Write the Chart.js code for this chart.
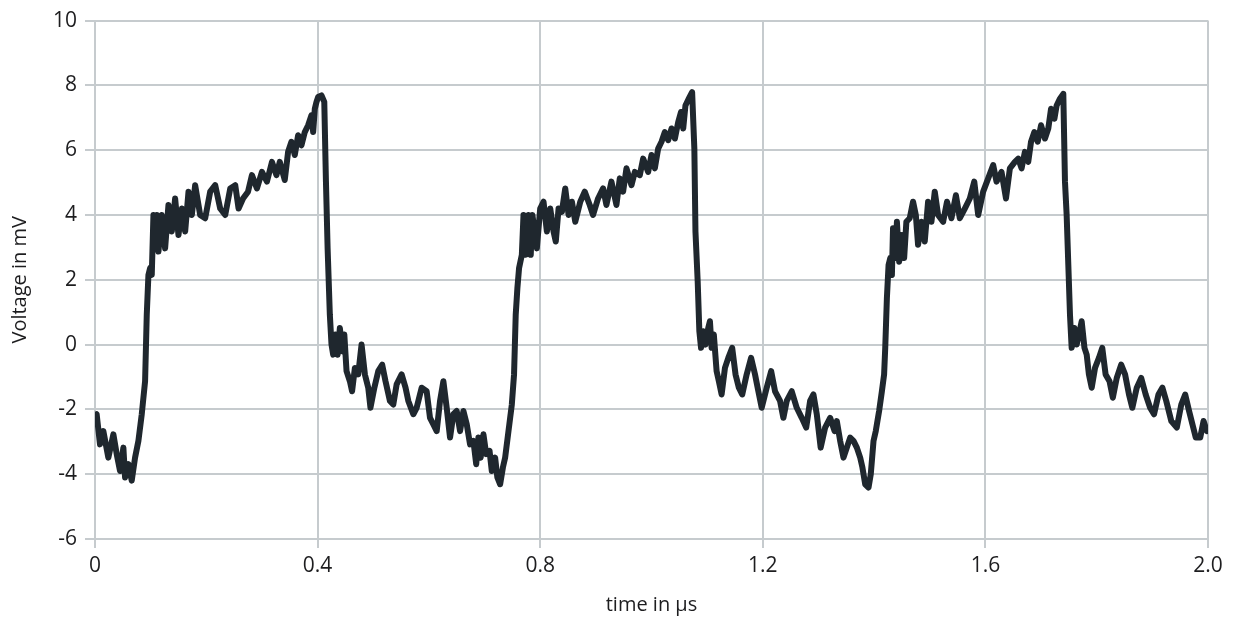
<!DOCTYPE html>
<html>
<head>
<meta charset="utf-8">
<script src="https://cdn.jsdelivr.net/npm/chart.js@4/dist/chart.umd.min.js"></script>
<style>
  html, body { margin: 0; padding: 0; background: #fff; }
  #wrap { width: 1233px; height: 617px; }
</style>
</head>
<body>
<div id="wrap"><canvas id="myChart" width="1233" height="617"></canvas></div>
<script>
// Values (time in µs, voltage in mV)
const timeUs = [
  0.000, 0.003, 0.009, 0.015, 0.024, 0.033, 0.039, 0.045, 0.051, 0.054,
  0.060, 0.066, 0.072, 0.078, 0.084, 0.090, 0.093, 0.096, 0.099, 0.102,
  0.105, 0.108, 0.111, 0.114, 0.120, 0.126, 0.132, 0.138, 0.144, 0.150,
  0.156, 0.162, 0.168, 0.174, 0.180, 0.189, 0.198, 0.207, 0.216, 0.225,
  0.234, 0.243, 0.252, 0.258, 0.266, 0.275, 0.282, 0.291, 0.300, 0.309,
  0.318, 0.326, 0.332, 0.341, 0.347, 0.353, 0.359, 0.365, 0.371, 0.377,
  0.383, 0.389, 0.392, 0.395, 0.398, 0.401, 0.407, 0.412, 0.415, 0.418,
  0.422, 0.425, 0.428, 0.432, 0.436, 0.440, 0.445, 0.448, 0.452, 0.458,
  0.462, 0.467, 0.473, 0.479, 0.485, 0.491, 0.495, 0.502, 0.509, 0.516,
  0.522, 0.530, 0.536, 0.542, 0.551, 0.558, 0.563, 0.572, 0.578, 0.587,
  0.596, 0.602, 0.608, 0.614, 0.620, 0.626, 0.632, 0.638, 0.644, 0.650,
  0.656, 0.662, 0.668, 0.674, 0.680, 0.685, 0.689, 0.693, 0.698, 0.703,
  0.709, 0.713, 0.719, 0.723, 0.728, 0.733, 0.737, 0.743, 0.749, 0.753,
  0.756, 0.759, 0.762, 0.767, 0.770, 0.774, 0.779, 0.783, 0.786, 0.794,
  0.800, 0.806, 0.812, 0.818, 0.824, 0.828, 0.833, 0.839, 0.845, 0.851,
  0.857, 0.863, 0.872, 0.880, 0.889, 0.895, 0.904, 0.913, 0.919, 0.928,
  0.937, 0.943, 0.949, 0.955, 0.964, 0.970, 0.979, 0.985, 0.994, 1.000,
  1.006, 1.012, 1.018, 1.024, 1.030, 1.036, 1.042, 1.048, 1.053, 1.057,
  1.061, 1.067, 1.073, 1.077, 1.079, 1.083, 1.086, 1.089, 1.093, 1.097,
  1.102, 1.105, 1.108, 1.112, 1.117, 1.121, 1.126, 1.132, 1.138, 1.145,
  1.151, 1.157, 1.163, 1.171, 1.179, 1.186, 1.192, 1.198, 1.207, 1.215,
  1.222, 1.231, 1.237, 1.243, 1.252, 1.261, 1.270, 1.278, 1.285, 1.291,
  1.297, 1.304, 1.312, 1.321, 1.329, 1.333, 1.339, 1.345, 1.351, 1.357,
  1.363, 1.369, 1.375, 1.379, 1.384, 1.390, 1.394, 1.399, 1.403, 1.409,
  1.414, 1.418, 1.420, 1.423, 1.426, 1.429, 1.432, 1.434, 1.438, 1.441,
  1.445, 1.450, 1.454, 1.458, 1.464, 1.470, 1.475, 1.479, 1.485, 1.491,
  1.497, 1.503, 1.509, 1.515, 1.524, 1.531, 1.539, 1.547, 1.554, 1.563,
  1.572, 1.580, 1.587, 1.596, 1.605, 1.614, 1.620, 1.629, 1.637, 1.644,
  1.653, 1.659, 1.665, 1.671, 1.677, 1.682, 1.688, 1.694, 1.700, 1.707,
  1.713, 1.718, 1.724, 1.728, 1.734, 1.740, 1.743, 1.746, 1.749, 1.752,
  1.755, 1.760, 1.764, 1.768, 1.773, 1.778, 1.782, 1.786, 1.791, 1.797,
  1.804, 1.810, 1.816, 1.823, 1.829, 1.836, 1.844, 1.851, 1.858, 1.864,
  1.872, 1.880, 1.888, 1.896, 1.903, 1.911, 1.918, 1.925, 1.934, 1.944,
  1.952, 1.959, 1.966, 1.972, 1.978, 1.986, 1.992, 1.998
];
const voltageMv = [
  -2.20, -2.15, -3.08, -2.67, -3.49, -2.77, -3.38, -3.90, -3.18, -4.10,
  -3.69, -4.20, -3.49, -2.97, -2.15, -1.13, 0.92, 2.15, 2.36, 2.15,
  4.00, 2.97, 4.00, 2.87, 4.00, 2.97, 4.31, 3.49, 4.51, 3.38,
  4.20, 3.49, 4.72, 4.00, 4.92, 4.00, 3.90, 4.72, 4.92, 4.20,
  4.00, 4.82, 4.92, 4.20, 4.51, 4.72, 5.23, 4.82, 5.33, 5.03,
  5.64, 5.23, 5.64, 5.08, 5.95, 6.26, 5.85, 6.46, 6.15, 6.56,
  6.77, 7.08, 6.56, 7.28, 7.49, 7.64, 7.69, 7.49, 5.03, 2.97,
  0.92, 0.00, -0.31, 0.31, -0.31, 0.51, -0.21, 0.31, -0.82, -1.13,
  -1.44, -0.72, -0.92, 0.00, -0.92, -1.33, -1.95, -1.33, -0.82, -0.62,
  -1.13, -1.74, -1.85, -1.23, -0.92, -1.33, -1.74, -2.15, -1.95, -1.33,
  -1.44, -2.26, -2.46, -2.67, -1.74, -1.13, -1.95, -2.87, -2.15, -2.05,
  -2.67, -2.05, -2.46, -3.08, -2.97, -3.69, -2.87, -3.49, -2.77, -3.38,
  -3.28, -3.90, -3.49, -4.10, -4.31, -3.79, -3.49, -2.67, -1.85, -0.92,
  0.92, 1.74, 2.36, 2.77, 4.00, 2.77, 4.00, 2.77, 4.00, 2.97,
  4.20, 4.41, 3.49, 4.20, 3.49, 3.18, 4.20, 4.10, 4.82, 4.00,
  4.41, 3.79, 4.41, 4.72, 4.31, 4.00, 4.51, 4.82, 4.31, 5.03,
  4.31, 5.13, 4.72, 5.44, 4.92, 5.33, 5.23, 5.74, 5.33, 5.85,
  5.44, 6.05, 6.26, 6.56, 6.31, 6.67, 6.36, 6.87, 7.18, 6.67,
  7.38, 7.59, 7.79, 6.05, 3.49, 1.95, 0.41, -0.10, 0.41, 0.00,
  0.51, 0.72, -0.10, 0.31, -0.82, -1.13, -1.54, -0.72, -0.41, -0.10,
  -0.92, -1.33, -1.54, -0.92, -0.41, -0.92, -1.44, -1.95, -1.33, -0.82,
  -1.44, -1.74, -2.26, -1.74, -1.44, -1.95, -2.26, -2.56, -1.74, -1.54,
  -2.15, -3.18, -2.56, -2.26, -2.67, -2.36, -2.97, -3.49, -3.18, -2.87,
  -2.97, -3.18, -3.49, -3.79, -4.31, -4.41, -4.00, -2.97, -2.67, -2.05,
  -1.44, -0.92, -0.10, 1.44, 2.46, 2.67, 2.15, 3.59, 2.67, 3.79,
  2.56, 3.38, 2.67, 3.79, 3.90, 4.41, 4.00, 3.08, 3.79, 3.18,
  4.41, 3.79, 4.72, 4.00, 3.79, 4.41, 3.90, 4.61, 3.90, 4.20,
  4.51, 5.03, 4.00, 4.72, 5.13, 5.54, 5.03, 5.33, 4.51, 5.44,
  5.64, 5.74, 5.44, 5.95, 5.64, 6.26, 6.56, 6.26, 6.77, 6.36,
  6.67, 7.28, 6.97, 7.38, 7.59, 7.74, 5.03, 4.00, 2.46, 0.92,
  -0.10, 0.51, 0.00, 0.31, 0.72, -0.10, -0.31, -0.92, -1.33, -0.72,
  -0.41, -0.10, -0.92, -1.13, -1.64, -1.03, -0.62, -0.92, -1.54, -1.95,
  -1.33, -1.03, -1.54, -1.95, -2.15, -1.54, -1.33, -1.74, -2.36, -2.56,
  -1.85, -1.54, -2.05, -2.46, -2.87, -2.87, -2.36, -2.67
];

const xTicks = [0, 0.4, 0.8, 1.2, 1.6, 2.0];
const xTickLabels = ['0', '0.4', '0.8', '1.2', '1.6', '2.0'];
const yTicks = [-6, -4, -2, 0, 2, 4, 6, 8, 10];
const yTickLabels = ['-6', '-4', '-2', '0', '2', '4', '6', '8', '10'];

const gridColor = '#c6cbce';
const textColor = '#1d1d1f';
const fontFamily = '"Open Sans", "Noto Sans", sans-serif';

const points = timeUs.map((t, i) => ({ x: t, y: voltageMv[i] }));

const ctx = document.getElementById('myChart').getContext('2d');
new Chart(ctx, {
  type: 'line',
  data: {
    datasets: [{
      data: points,
      borderColor: '#1f272e',
      borderWidth: 6,
      borderJoinStyle: 'round',
      borderCapStyle: 'round',
      pointRadius: 0,
      tension: 0,
      fill: false
    }]
  },
  options: {
    responsive: false,
    animation: false,
    layout: { padding: { top: 18, right: 25, left: 0, bottom: 0 } },
    plugins: {
      legend: { display: false },
      tooltip: { enabled: false }
    },
    scales: {
      x: {
        type: 'linear',
        min: 0,
        max: 2,
        afterBuildTicks: axis => { axis.ticks = xTicks.map(v => ({ value: v })); },
        afterFit: axis => { axis.height = 78; },
        grid: { color: gridColor, lineWidth: 2, tickLength: 9, tickColor: gridColor },
        border: { color: gridColor, width: 2 },
        ticks: {
          color: textColor,
          padding: 5,
          maxRotation: 0,
          font: { family: fontFamily, size: 21 },
          callback: (v, i) => xTickLabels[i]
        },
        title: {
          display: true,
          text: 'time in µs',
          color: textColor,
          padding: { top: 2, bottom: 0 },
          font: { family: fontFamily, size: 20 }
        }
      },
      y: {
        min: -6,
        max: 10,
        afterBuildTicks: axis => { axis.ticks = yTicks.map(v => ({ value: v })); },
        afterFit: axis => { axis.width = 95; },
        grid: { color: gridColor, lineWidth: 2, tickLength: 10, tickColor: gridColor },
        border: { color: gridColor, width: 2 },
        ticks: {
          color: textColor,
          padding: 8,
          font: { family: fontFamily, size: 21 },
          callback: (v, i) => yTickLabels[i]
        },
        title: {
          display: true,
          text: 'Voltage in mV',
          color: textColor,
          padding: { top: 8, bottom: 0 },
          font: { family: fontFamily, size: 20 }
        }
      }
    }
  }
});
</script>
</body>
</html>
